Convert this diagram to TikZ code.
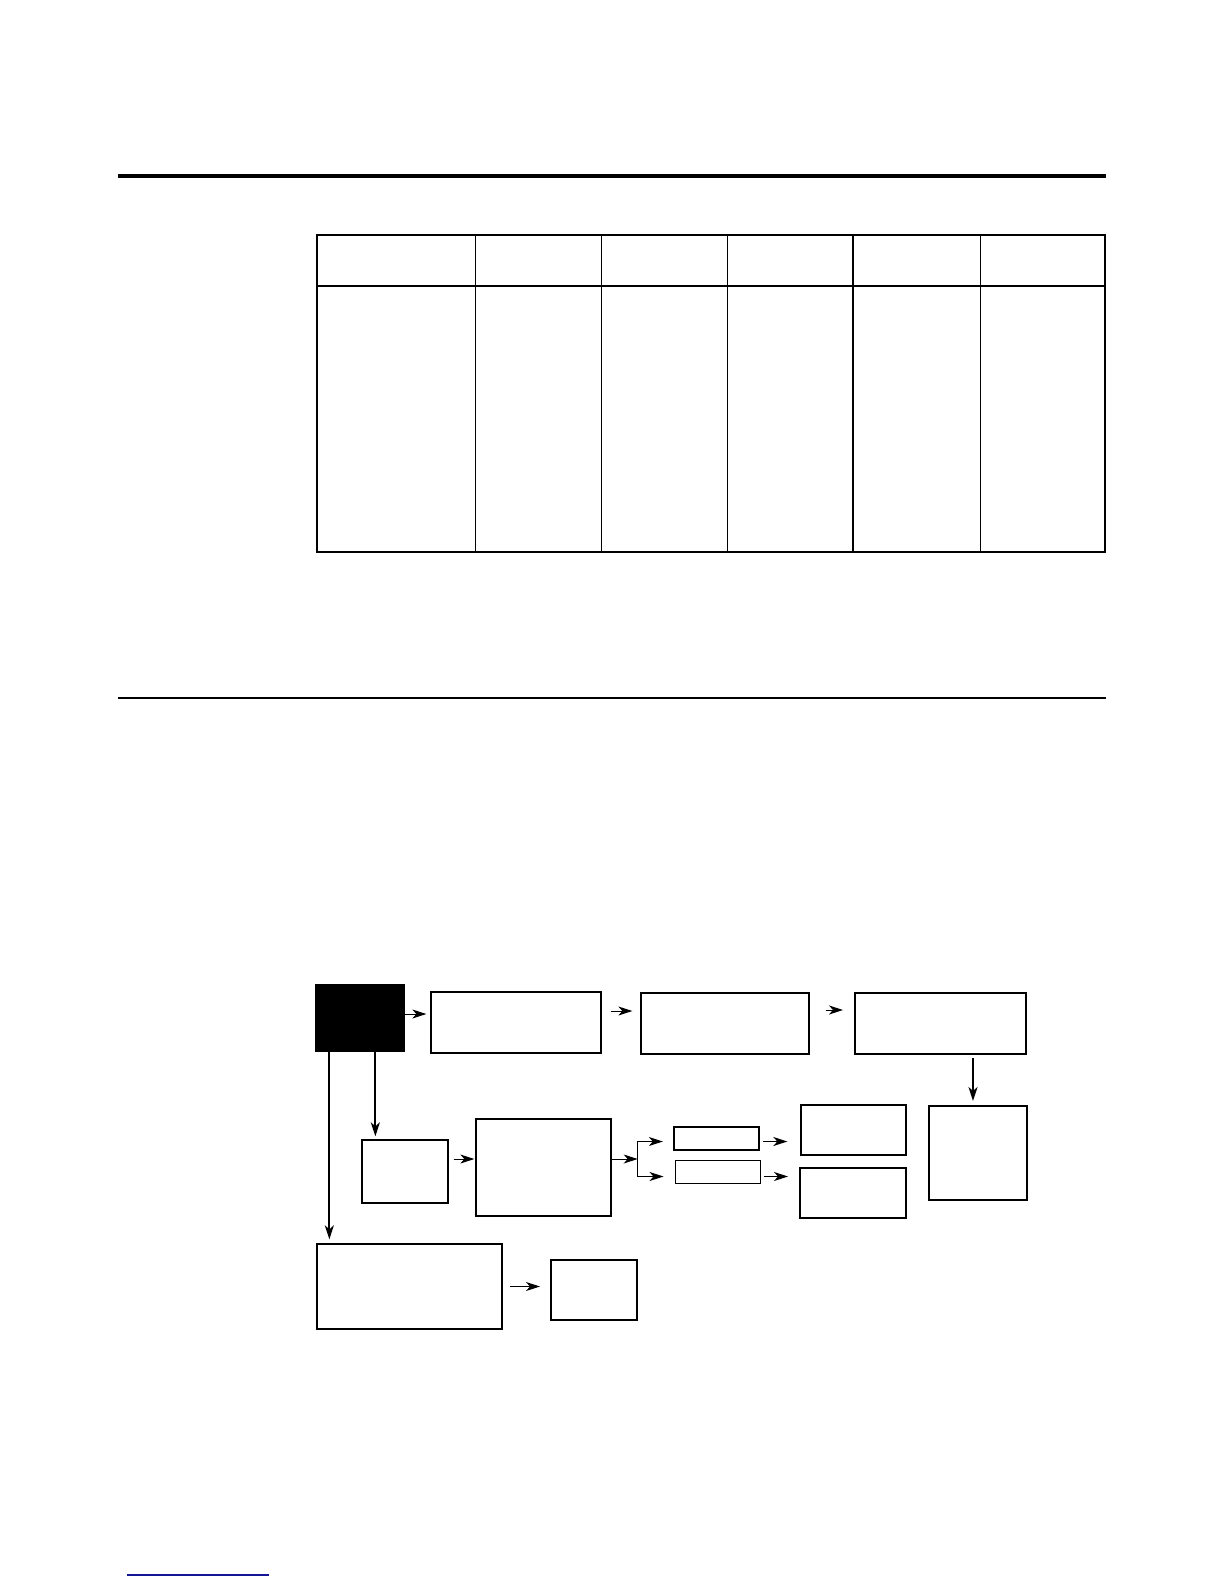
\documentclass[tikz,border=0pt]{standalone}
\usepackage{xcolor}
\usepackage{tikz}
\usetikzlibrary{arrows.meta, positioning, calc}
\definecolor{linkblue}{RGB}{20, 20, 150}

\begin{document}
\begin{tikzpicture}[x=1pt, y=-1pt,
  >={Stealth[length=14pt, width=9pt, inset=4pt]},
  box/.style={draw, rectangle, line width=1.3pt, inner sep=0pt},
  boldbox/.style={box, line width=2pt},
  flow/.style={->, line width=1pt}]
  \useasboundingbox (0,0) rectangle (1224,1584);
  % page rules and the empty table
  \draw[line width=3.5pt] (118,176) -- (1106,176);
  \draw[line width=2pt] (118,698) -- (1106,698);
  \draw[line width=1.3pt] (317,235) rectangle (1105,552);
  \draw[line width=2.2pt] (317,286) -- (1105,286);
  \foreach \x in {475,601,727,980} \draw[line width=0.8pt] (\x,235) -- (\x,552);
  \draw[line width=1.8pt] (853,235) -- (853,552);
  % flow chart
  \node[box, fill=black, minimum width=88pt, minimum height=66pt] (start) at (360,1018) {};
  \node[box, minimum width=170pt, minimum height=61pt] (top1) at (516,1022.5) {};
  \node[box, minimum width=168pt, minimum height=61pt] (top2) at (725,1023.5) {};
  \node[boldbox, minimum width=171pt, minimum height=61pt] (top3) at (940.5,1023.5) {};
  \node[boldbox, minimum width=98pt, minimum height=94pt] (side) at (978,1153) {};
  \node[box, minimum width=86pt, minimum height=63pt] (mid1) at (405,1171.5) {};
  \node[box, minimum width=135pt, minimum height=97pt] (mid2) at (543.5,1167.5) {};
  \node[boldbox, line width=2.3pt, minimum width=85pt, minimum height=23pt] (hi) at (716.5,1138.5) {};
  \node[box, line width=1pt, minimum width=85pt, minimum height=23pt] (lo) at (717.5,1171.5) {};
  \node[box, minimum width=105pt, minimum height=50pt] (outhi) at (853.5,1130) {};
  \node[boldbox, minimum width=106pt, minimum height=50pt] (outlo) at (853,1193) {};
  \node[box, minimum width=185pt, minimum height=85pt] (low1) at (409.5,1286.5) {};
  \node[boldbox, minimum width=86pt, minimum height=60pt] (low2) at (594,1290) {};
  \coordinate (fork) at ($(mid2.east)+(26,-8.5)$);

  \draw[flow, shorten >=4pt] ([yshift=4pt]start.east) -- ([yshift=4pt]start.east -| top1.west);
  \draw[flow, shorten <=9pt, shorten >=8pt] ([yshift=11.5pt]top1.east) -- ([yshift=11.5pt]top1.east -| top2.west);
  \draw[flow, shorten <=16pt, shorten >=11pt] ([yshift=13.5pt]top2.east) -- ([yshift=13.5pt]top2.east -| top3.west);
  \draw[flow, line width=2pt, shorten <=3pt, shorten >=4pt] ([xshift=-5pt]side.north |- top3.south) -- ([xshift=-5pt]side.north);
  \draw[flow, line width=2pt, shorten >=3pt] ([xshift=60pt]start.south west) -- ([xshift=60pt]start.south west |- mid1.north);
  \draw[flow, line width=2pt, shorten >=4pt] ([xshift=14pt]start.south west) -- ([xshift=14pt]start.south west |- low1.north);
  \draw[flow, shorten <=5pt, shorten >=1pt] ([yshift=12.5pt]mid1.east) -- ([yshift=12.5pt]mid1.east -| mid2.west);
  \draw[flow] (mid2.east |- fork) -- (fork);
  \draw[flow, shorten >=10pt] (fork) |- ([yshift=-3pt]hi.west);
  \draw[flow, shorten >=11pt] (fork) |- ([yshift=-5pt]lo.west);
  \draw[flow, line width=1.8pt, shorten <=3pt, shorten >=13pt] ([yshift=-3pt]hi.east) -- ([yshift=-3pt]hi.east -| outhi.west);
  \draw[flow, shorten <=3pt, shorten >=11pt] ([yshift=-5pt]lo.east) -- ([yshift=-5pt]lo.east -| outlo.west);
  \draw[flow, shorten <=7pt, shorten >=10pt] (low1.east) -- (low1.east -| low2.west);

  \draw[linkblue, line width=1.2pt] (127,1575) -- (269,1575);
\end{tikzpicture}
\end{document}
